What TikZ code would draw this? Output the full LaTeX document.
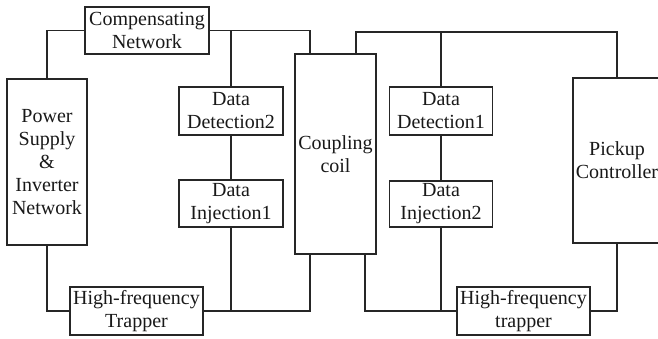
\documentclass[tikz,border=0pt]{standalone}
\usepackage{fontspec}
\setmainfont{Liberation Serif}
\begin{document}
\begin{tikzpicture}[x=1pt,y=-1pt,
  blk/.style={draw=black!85, line width=1.3pt, fill=white, align=center, inner sep=0pt,
    font=\fontsize{20}{23}\selectfont, text=black!90},
  wire/.style={draw=black!85, line width=1.3pt}]
\fill[white] (0,0) rectangle (658,339);
\useasboundingbox (0,0) rectangle (658,339);
% boxes
\node[blk, minimum width=124pt, minimum height=47pt] (cn) at (147,30.5) {Compensating\\Network};
\node[blk, minimum width=80pt, minimum height=166pt] (pw) at (47,162) {Power\\Supply\\\&\\Inverter\\Network};
\node[blk, minimum width=104pt, minimum height=48pt] (dd2) at (231,111) {Data\\Detection2};
\node[blk, minimum width=104pt, minimum height=47pt] (di1) at (231,203.5) {Data\\Injection1};
\node[blk, minimum width=81pt, minimum height=200pt] (coil) at (335.5,154) {Coupling\\coil};
\node[blk, minimum width=103pt, minimum height=48pt] (dd1) at (441,111) {Data\\Detection1};
\node[blk, minimum width=103pt, minimum height=46pt] (di2) at (441,204) {Data\\Injection2};
\node[blk, minimum width=88pt, minimum height=165pt] (pk) at (617,160.5) {Pickup\\Controller};
\node[blk, minimum width=133pt, minimum height=48pt] (hf1) at (136.5,311) {High-frequency\\Trapper};
\node[blk, minimum width=133pt, minimum height=48pt] (hf2) at (523.5,311) {High-frequency\\trapper};
\coordinate (topR) at (617,32);
% left loop
\draw[wire] (pw.north) |- (cn.west);
\draw[wire] (cn.east) -| ([xshift=-25.5]coil.north);
\draw[wire] (dd2.north) -- (dd2.north |- cn.east);
\draw[wire] (dd2) -- (di1);
\draw[wire] (pw.south) |- (hf1.west);
\draw[wire] (hf1.east) -| ([xshift=-25.5]coil.south);
\draw[wire] (di1.south) -- (di1.south |- hf1.east);
% right loop
\draw[wire] ([xshift=20.5]coil.north) |- (topR) -- (pk.north);
\draw[wire] (dd1.north) -- (dd1.north |- topR);
\draw[wire] (dd1) -- (di2);
\draw[wire] ([xshift=29.5]coil.south) |- (hf2.west);
\draw[wire] (hf2.east) -| (pk.south);
\draw[wire] (di2.south) -- (di2.south |- hf2.west);
\end{tikzpicture}
\end{document}
